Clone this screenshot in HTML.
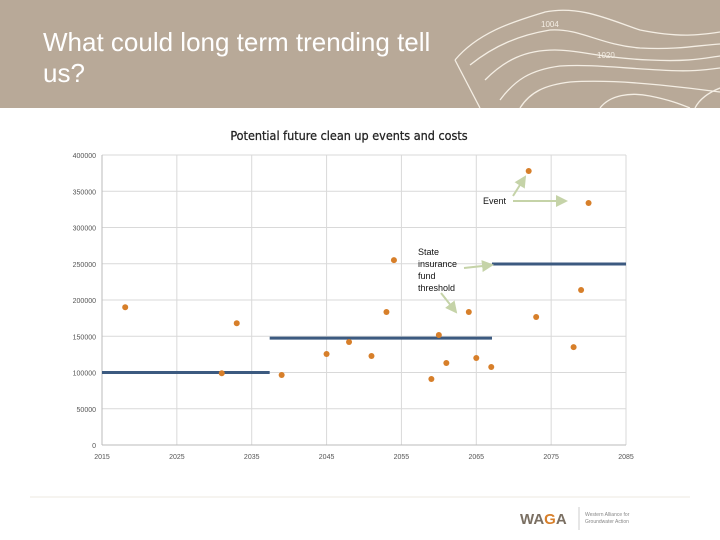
<!DOCTYPE html>
<html><head><meta charset="utf-8"><style>
body{margin:0;width:720px;height:540px;overflow:hidden;background:#fff;font-family:"Liberation Sans",sans-serif;}
#hdr{position:absolute;left:0;top:0;width:720px;height:108px;background:#b8a998;}
#title{position:absolute;left:43px;top:27px;color:#fff;font-size:26px;line-height:31px;width:400px;}
svg{position:absolute;left:0;top:0;}
</style></head><body>
<div id="hdr">
<svg width="720" height="108">
<g fill="none" stroke="#f4eee4" stroke-width="1.3">
<path d="M455,60 C480,30 520,20 545,12 C580,5 610,20 640,30 C680,38 700,35 720,32"/>
<path d="M455,60 L480,108"/>
<path d="M470,65 C495,45 520,35 550,30 C580,28 600,45 640,48 C680,50 700,45 720,44"/>
<path d="M485,80 C505,60 525,50 555,50 C580,50 600,58 650,60 C690,62 705,58 720,56"/>
<path d="M500,100 C515,80 530,70 560,66 C590,64 620,68 660,70 C690,72 705,70 720,68"/>
<path d="M520,108 C530,92 545,85 570,82 C600,80 630,82 660,85 C690,88 705,90 720,92"/>
<path d="M600,108 C610,95 630,92 650,96 C670,100 680,104 690,108"/>
<path d="M695,108 C700,98 710,92 720,88"/>
</g>
<text x="541" y="27" fill="#f4eee4" font-size="8">1004</text>
<text x="597" y="58" fill="#f4eee4" font-size="8">1020</text>
</svg>
<div id="title">What could long term trending tell us?</div>
</div>
<svg id="chart" width="720" height="540" style="top:0"></svg>
<script>
const yearTicks=[2015,2025,2035,2045,2055,2065,2075,2085];
const valueTicks=[0,50000,100000,150000,200000,250000,300000,350000,400000];
const eventYears=[2018.1,2031,2033,2039,2045,2048,2051,2053,2054,2059,2060,2061,2064,2065,2067,2072,2073,2078,2079,2080];
const eventCosts=[190000,99000,168000,96600,125500,142000,122800,183400,255000,91000,151700,113100,183400,120000,107600,378000,176500,135000,213800,333800];
const thresholdStarts=[2015,2037.4,2067.1];
const thresholdEnds=[2037.4,2067.1,2085];
const thresholdValues=[100000,147500,249600];
const X0=102,X1=626,Y0=445,Y1=155;
const xs=v=>X0+(v-2015)/(2085-2015)*(X1-X0);
const ys=v=>Y0-v/400000*(Y0-Y1);
const svg=document.getElementById('chart');
const NS='http://www.w3.org/2000/svg';
function mk(t,a){const e=document.createElementNS(NS,t);for(const k in a)e.setAttribute(k,a[k]);svg.appendChild(e);return e;}
let t=mk('text',{x:349,y:140,'text-anchor':'middle','font-size':12.5,fill:'#222',stroke:'#222','stroke-width':0.25,'font-family':'DejaVu Sans Condensed, Liberation Sans Narrow, sans-serif'});
t.textContent='Potential future clean up events and costs';


valueTicks.forEach(v=>{
 const l=mk('line',{x1:X0,x2:X1,y1:ys(v),y2:ys(v),stroke:'#d9d9d9'});
 
 
 const tx=mk('text',{x:96,y:ys(v)+3,'text-anchor':'end','font-size':7,fill:'#555'});
 tx.textContent=v;
 
 
});
yearTicks.forEach(v=>{
 const l=mk('line',{x1:xs(v),x2:xs(v),y1:Y1,y2:Y0,stroke:'#d9d9d9'});
 
 
 const tx=mk('text',{x:xs(v),y:459,'text-anchor':'middle','font-size':7,fill:'#555'});
 tx.textContent=v;
 
 
});
let ax=mk('line',{x1:X0,x2:X1,y1:Y0,y2:Y0,stroke:'#bbb'});


ax=mk('line',{x1:X0,x2:X0,y1:Y1,y2:Y0,stroke:'#bbb'});


thresholdValues.forEach((v,i)=>{
 const l=mk('line',{x1:xs(thresholdStarts[i]),x2:xs(thresholdEnds[i]),y1:ys(v),y2:ys(v),stroke:'#3c5a80','stroke-width':3});
 
 
});
eventYears.forEach((v,i)=>{
 const c=mk('circle',{cx:xs(v),cy:ys(eventCosts[i]),r:3,fill:'#d77f2a'});
 
 
});
mk('defs',{}).innerHTML='<marker id="ah" markerWidth="6" markerHeight="6" refX="5" refY="3" orient="auto"><path d="M0,0 L6,3 L0,6 z" fill="#c5d3a8"/></marker>';
[[513,201,566,201],[513,196,525,177],[464,268,492,265],[441,293,456,312]].forEach(a=>{
 const l=mk('line',{x1:a[0],y1:a[1],x2:a[2],y2:a[3],stroke:'#c5d3a8','stroke-width':2,'marker-end':'url(#ah)'});
 
 
});
t=mk('text',{x:483,y:204,'font-size':9,fill:'#111'});t.textContent='Event';


['State','insurance','fund','threshold'].forEach((s,i)=>{
 const tx=mk('text',{x:418,y:255+i*12,'font-size':9,fill:'#111'});tx.textContent=s;
 
 
});
let f=mk('line',{x1:30,x2:690,y1:497,y2:497,stroke:'#eeeae0'});


t=mk('text',{x:520,y:524,'font-size':15,'font-weight':'bold',fill:'#7a6f62'});t.innerHTML='WA<tspan fill="#d77f2a">G</tspan>A';


f=mk('line',{x1:579,x2:579,y1:507,y2:530,stroke:'#ccc'});


t=mk('text',{x:585,y:516,'font-size':5,fill:'#888'});t.textContent='Western Alliance for';


t=mk('text',{x:585,y:523,'font-size':5,fill:'#888'});t.textContent='Groundwater Action';


</script>
</body></html>
